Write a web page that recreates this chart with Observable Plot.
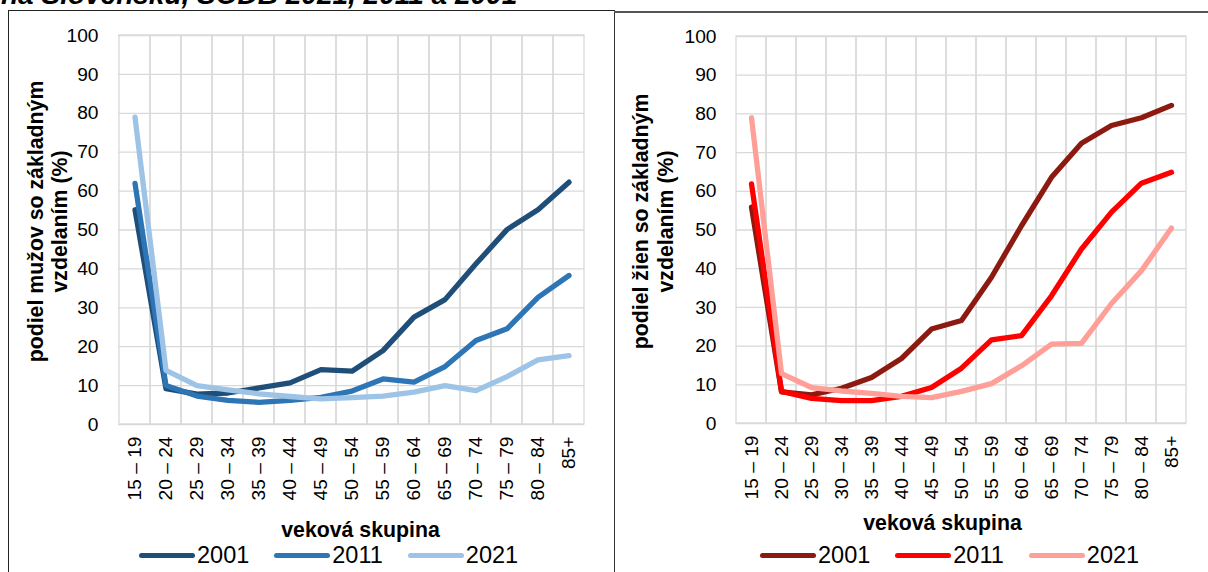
<!DOCTYPE html>
<html><head><meta charset="utf-8">
<script src="https://cdn.jsdelivr.net/npm/d3@7"></script>
<script src="https://cdn.jsdelivr.net/npm/@observablehq/plot@0.6"></script>
<style>
body{margin:0;width:1208px;height:572px;overflow:hidden;background:#fff;position:relative;font-family:"Liberation Sans",Arial,sans-serif;color:#000}
.title{position:absolute;left:1px;top:-19px;font:italic bold 28px/28px "Liberation Sans",Arial,sans-serif;white-space:nowrap}
#boxL{position:absolute;left:8px;top:10px;width:605px;height:600px;border-left:1.5px solid #222;border-top:1.5px solid #222;border-right:1.5px solid #333}
#boxR{position:absolute;left:614px;top:11px;width:600px;height:600px;border-top:2px solid #555}
.chart{position:absolute;top:0}
.legend{position:absolute;top:541px;height:28px;display:flex;align-items:center;font-size:23.5px;line-height:28px;white-space:nowrap}
.legend .sw{width:56px;height:5px;border-radius:3px;margin-right:2px}
.legend .it{display:flex;align-items:center;margin-right:25px}
</style>
</head><body>
<div class="title">na Slovensku, SODB 2021, 2011 a 2001</div>
<div id="boxL"></div>
<div id="boxR"></div>
<div id="chartL" class="chart" style="left:0px"></div>
<div id="chartR" class="chart" style="left:614px"></div>
<div id="legL" class="legend" style="left:139px"></div>
<div id="legR" class="legend" style="left:760px"></div>
<script>
const ages = ["15 – 19","20 – 24","25 – 29","30 – 34","35 – 39","40 – 44","45 – 49","50 – 54","55 – 59","60 – 64","65 – 69","70 – 74","75 – 79","80 – 84","85+"];
const years = ["2001","2011","2021"];
const yTicks = [0,10,20,30,40,50,60,70,80,90,100];
const men2001 = [55.2,9.2,7.8,8.1,9.4,10.7,14.1,13.7,19.0,27.6,32.1,41.3,50.1,55.2,62.3];
const men2011 = [62.0,10.0,7.3,6.2,5.7,6.2,7.0,8.6,11.7,10.9,14.9,21.6,24.6,32.7,38.3];
const men2021 = [79.0,13.9,10.0,8.9,7.9,7.2,6.6,6.9,7.3,8.3,10.0,8.7,12.3,16.6,17.7];
const women2001 = [55.9,8.2,7.4,9.1,11.9,16.8,24.4,26.6,37.8,51.1,63.6,72.4,77.0,79.0,82.2];
const women2011 = [61.9,8.3,6.5,5.9,5.9,7.0,9.3,14.3,21.6,22.7,33.0,45.1,54.6,62.1,64.9];
const women2021 = [79.0,12.9,9.3,8.4,7.8,7.0,6.7,8.3,10.3,14.9,20.5,20.7,31.0,39.5,50.5];
const menColors = ["#1f4e79","#2e75b6","#9dc3e6"];
const womenColors = ["#8c1a10","#ff0000","#ff9f97"];
const xLabel = "veková skupina";
const menLabel = "podiel mužov so základným\nvzdelaním (%)";
const womenLabel = "podiel žien so základným\nvzdelaním (%)";

function panel(o) {
  const data = years.flatMap((yr, k) => ages.map((a, i) => ({age: a, year: yr, value: o.values[k][i]})));
  return Plot.plot({
    width: o.width, height: 572,
    marginLeft: o.ml, marginRight: o.mr, marginTop: o.mt, marginBottom: o.mb,
    style: {fontFamily: '"Liberation Sans", Arial, sans-serif', fontSize: "19.2px", color: "#000", background: "transparent", overflow: "visible"},
    x: {type: "band", domain: ages, padding: 0, label: null, tickSize: 0, tickPadding: 12, tickRotate: -90},
    y: {domain: [0, 100], ticks: yTicks, tickSize: 0, tickPadding: 20, label: null},
    color: {domain: years, range: o.colors},
    marks: [
      Plot.cell(ages, {x: d => d, fill: "none", stroke: "#d9d9d9", strokeWidth: 1.3}),
      Plot.ruleY(yTicks, {stroke: "#d9d9d9", strokeWidth: 1.3}),
      Plot.line(data, {x: "age", y: "value", stroke: "year", z: "year", strokeWidth: 5.3, strokeLinejoin: "round", strokeLinecap: "round"}),
      Plot.text([o.ylabel], {text: d => d, frameAnchor: "left", textAnchor: "middle", rotate: -90, dx: o.ydx, dy: -8.5, fontWeight: "bold", fontSize: 21.3, lineHeight: 1.17, lineAnchor: "middle"}),
      Plot.text([xLabel], {text: d => d, frameAnchor: "bottom", textAnchor: "middle", dx: o.xdx, dy: o.xdy, fontWeight: "bold", fontSize: 21.3, lineAnchor: "middle"})
    ]
  });
}

document.getElementById("chartL").append(panel({values: [men2001, men2011, men2021], colors: menColors, ylabel: menLabel, width: 614, ml: 118, mr: 30, mt: 35, mb: 148, ydx: -71.5, xdx: 9, xdy: 106}));
document.getElementById("chartR").append(panel({values: [women2001, women2011, women2021], colors: womenColors, ylabel: womenLabel, width: 594, ml: 122, mr: 22, mt: 36, mb: 149, ydx: -84, xdx: -19, xdy: 100}));

function legend(id, colors) {
  const el = document.getElementById(id);
  years.forEach((yr, i) => {
    const it = document.createElement("div"); it.className = "it";
    const sw = document.createElement("div"); sw.className = "sw"; sw.style.background = colors[i];
    const t = document.createElement("span"); t.textContent = yr;
    it.append(sw, t); el.append(it);
  });
}
legend("legL", menColors);
legend("legR", womenColors);
</script>
</body></html>
